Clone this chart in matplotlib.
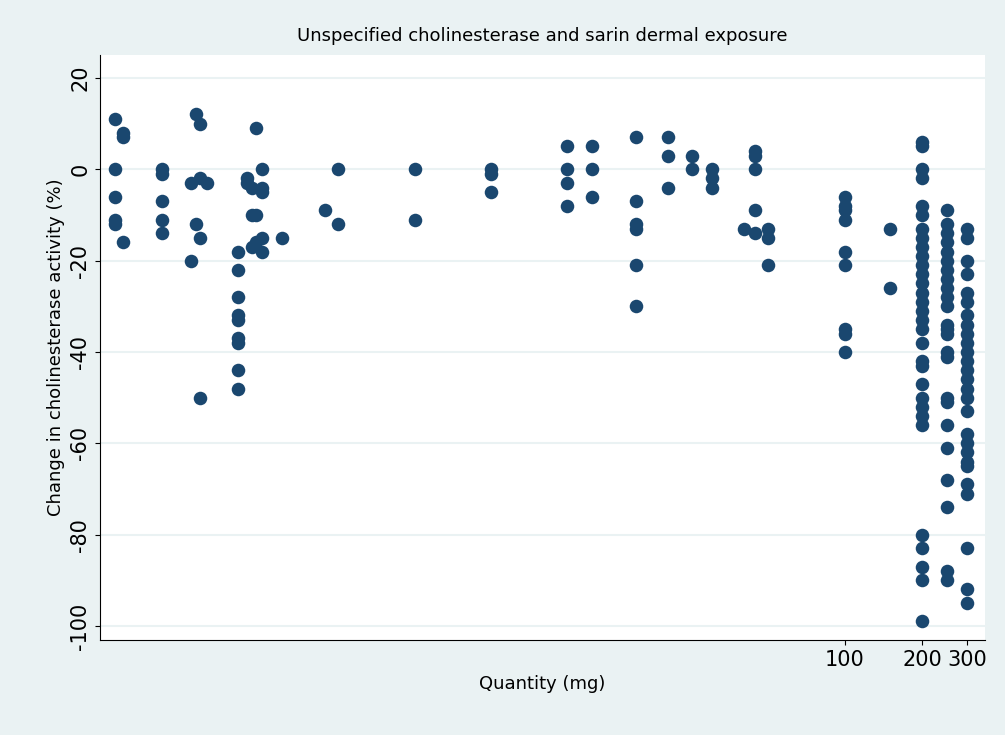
import matplotlib
matplotlib.use("Agg")
import matplotlib.pyplot as plt

quantity_mg = [0.141, 0.151, 0.215, 0.279, 0.292, 0.302, 0.322, 0.426, 0.461, 0.483, 0.5, 0.528,
               0.632, 0.931, 1.05, 2.09, 4.14, 8.2, 10.3, 15.3, 20.4, 25.2, 30.2, 40.3, 44.5, 50,
               100, 150, 200, 250, 300]
changes = [
    [11, 0, -6, -11, -12],
    [8, 7, -16],
    [0, -1, -7, -11, -14],
    [-3, -20],
    [12, -12],
    [10, -2, -15, -50],
    [-3],
    [-18, -22, -28, -32, -33, -37, -38, -44, -48],
    [-2, -3],
    [-4, -10, -17],
    [9, -10, -16],
    [0, -4, -5, -15, -18],
    [-15],
    [-9],
    [0, -12],
    [0, -11],
    [0, -1, -5],
    [5, 0, -3, -8],
    [5, 0, -6],
    [7, -7, -12, -13, -21, -30],
    [7, 3, -4],
    [3, 0],
    [0, -2, -4],
    [-13],
    [4, 3, 0, -9, -14],
    [-13, -15, -21],
    [-6, -8, -9, -11, -18, -21, -35, -36, -40],
    [-13, -26],
    [6, 5, 0, -2, -8, -10, -13, -15, -17, -19, -21, -23, -25, -27, -29, -31, -33, -35, -38,
     -42, -43, -47, -50, -52, -54, -56, -80, -83, -87, -90, -99],
    [-9, -12, -14, -16, -18, -20, -22, -24, -26, -28, -30, -34, -35, -36, -40, -41, -50, -51,
     -56, -61, -68, -74, -88, -90],
    [-13, -15, -20, -23, -27, -29, -32, -34, -36, -38, -40, -42, -44, -46, -48, -50, -53, -58,
     -60, -62, -64, -65, -69, -71, -83, -92, -95],
]
xticks = [100, 200, 300]
yticks = [20, 0, -20, -40, -60, -80, -100]

xs, ys = [], []
for q, vals in zip(quantity_mg, changes):
    for v in vals:
        xs.append(q); ys.append(v)

fig = plt.figure(figsize=(10.05, 7.35), dpi=100, facecolor="#eaf2f3")
ax = fig.add_axes([0.0995, 0.129, 0.8805, 0.796])
ax.set_facecolor("white")
ax.scatter(xs, ys, s=95, color="#1a476f", zorder=3, linewidths=0)
ax.set_xscale("log")
ax.set_xlim(0.123, 352)
ax.set_ylim(-103.1, 25)
ax.set_xticks(xticks)
ax.set_xticklabels([str(t) for t in xticks], fontsize=15)
ax.minorticks_off()
ax.set_yticks(yticks)
ax.set_yticklabels([str(t) for t in yticks], fontsize=15, rotation=90, va="center")
ax.yaxis.grid(True, color="#eaf2f3", linewidth=1.5, zorder=0)
for s in ["top", "right"]:
    ax.spines[s].set_visible(False)
ax.set_xlabel("Quantity (mg)", fontsize=13)
ax.set_ylabel("Change in cholinesterase activity (%)", fontsize=13)
ax.set_title("Unspecified cholinesterase and sarin dermal exposure", fontsize=13, pad=10)
fig.savefig("out.png", dpi=100, facecolor=fig.get_facecolor())
